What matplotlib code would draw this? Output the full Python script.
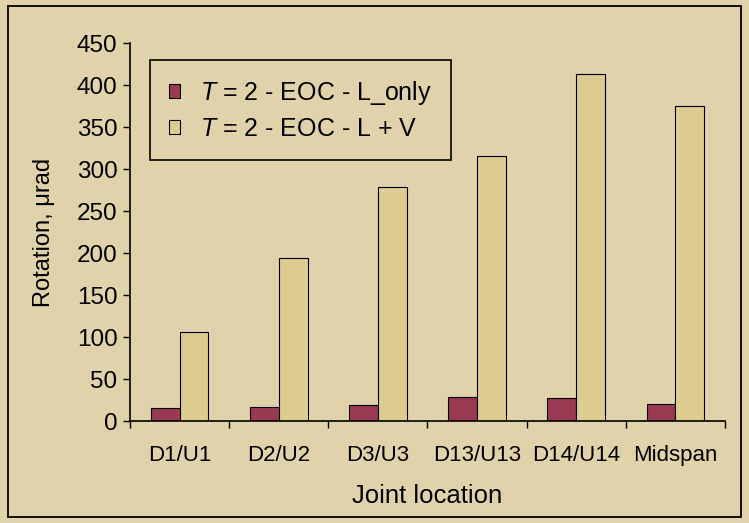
import numpy as np
import matplotlib.pyplot as plt
from matplotlib.patches import Rectangle

# data
categories = ["D1/U1", "D2/U2", "D3/U3", "D13/U13", "D14/U14", "Midspan"]
l_only = [15, 17, 19, 28, 27, 20]
l_plus_v = [106, 194, 278, 315, 413, 375]
series_labels = [r"$T$ = 2 - EOC - L_only", r"$T$ = 2 - EOC - L + V"]

bg = "#e0d2aa"
maroon = "#993a52"
tan = "#ddcb8f"

plt.rcParams['font.family'] = ['Liberation Sans', 'DejaVu Sans']
plt.rcParams['mathtext.fontset'] = 'custom'
plt.rcParams['mathtext.it'] = 'Liberation Sans:italic'

fig = plt.figure(figsize=(7.49, 5.23), dpi=100, facecolor=bg)
ax = fig.add_axes([130 / 749, 1 - 421 / 523, 595 / 749, 378 / 523])
ax.set_facecolor(bg)

# outer border
fig.patches.append(Rectangle((8 / 749, 6 / 523), 733 / 749, 511 / 523,
                             transform=fig.transFigure, fill=False,
                             edgecolor="black", linewidth=1.3))

x = np.arange(len(categories))
w = 0.29
ax.bar(x - w / 2, l_only, w, color=maroon, edgecolor="black", linewidth=0.8,
       label=series_labels[0])
ax.bar(x + w / 2, l_plus_v, w, color=tan, edgecolor="black", linewidth=0.8,
       label=series_labels[1])

ax.set_xlim(-0.5, len(categories) - 0.5)
ax.set_ylim(0, 450)
ax.set_yticks(np.arange(0, 451, 50))
ax.set_xticks(x)
ax.set_xticklabels(categories, fontsize=16)
ax.set_xticks(np.arange(-0.5, len(categories)), minor=True)
ax.tick_params(axis="x", which="major", length=0, pad=17)
ax.tick_params(axis="x", which="minor", length=5, width=1)
ax.tick_params(axis="y", labelsize=17.5, length=5, width=1, pad=4)

for s in ["top", "right"]:
    ax.spines[s].set_visible(False)
for s in ["left", "bottom"]:
    ax.spines[s].set_linewidth(1.2)

ax.set_ylabel("Rotation, \u03bcrad", fontsize=17, labelpad=16)
ax.set_xlabel("Joint location", fontsize=18.5, labelpad=13)

leg = ax.legend(loc="upper left", bbox_to_anchor=(20 / 595, 1 - 17 / 378),
                borderaxespad=0,
                fontsize=18, frameon=True, fancybox=False, edgecolor="black",
                facecolor=bg, framealpha=1, handlelength=0.45, handleheight=0.45,
                borderpad=0.75, labelspacing=0.4, handletextpad=0.8)
leg.get_frame().set_linewidth(1.2)

fig.savefig("out.png", dpi=100, facecolor=bg)
